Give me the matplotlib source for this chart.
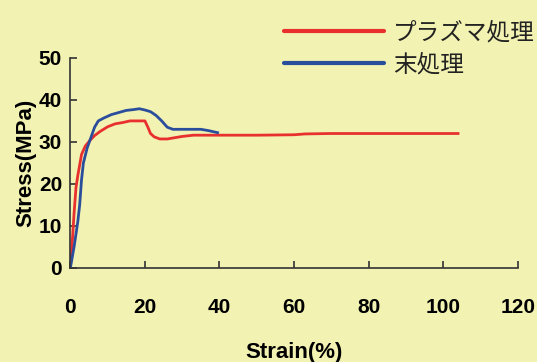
import numpy as np
import matplotlib.pyplot as plt

# stress-strain curves
strain_plasma = [0, 0.5, 1.0, 1.5, 2.0, 3.0, 4.0, 5.2, 6.5, 8, 10, 12, 14, 16, 18, 20,
                 20.8, 21.5, 22.5, 24, 26, 28, 30, 33, 40, 50, 60, 63, 70, 80, 90, 104]
stress_plasma = [0, 6, 13, 19, 22, 27, 29, 30.3, 31.5, 32.5, 33.6, 34.3, 34.6, 35, 35, 35,
                 33.5, 32, 31.2, 30.7, 30.7, 31, 31.3, 31.6, 31.6, 31.6, 31.7, 31.9, 32, 32, 32, 32]

strain_raw = [0, 1, 2, 2.5, 3, 3.5, 4.5, 5.5, 6.5, 7.5, 9, 11, 13, 15, 17, 18.5, 20,
              21.5, 23, 24.5, 26, 27.5, 30, 35, 37, 39.5]
stress_raw = [0, 5, 11, 15, 21, 25, 28.5, 31, 33.5, 35, 35.7, 36.5, 37, 37.5, 37.7, 37.9, 37.6,
              37.2, 36.3, 35, 33.5, 33, 33, 33, 32.7, 32.2]

labels = ['プラズマ処理', '末処理']
xticks = [0, 20, 40, 60, 80, 100, 120]
yticks = [0, 10, 20, 30, 40, 50]

bg = '#F2F2B2'
red = '#E8302F'
blue = '#2B4E9C'

plt.rcParams['font.family'] = ['Liberation Sans', 'DejaVu Sans']

fig = plt.figure(figsize=(5.37, 3.62), dpi=100, facecolor=bg)
ax = fig.add_axes([0.131, 0.26, 0.833, 0.58])
ax.set_facecolor(bg)

l1, = ax.plot(strain_plasma, stress_plasma, color=red, lw=2, label=labels[0])
l2, = ax.plot(strain_raw, stress_raw, color=blue, lw=2, label=labels[1])

ax.set_xlim(0, 120)
ax.set_ylim(0, 50)
ax.set_xticks(xticks)
ax.set_yticks(yticks)
for s in ['top', 'right']:
    ax.spines[s].set_visible(False)
for s in ['left', 'bottom']:
    ax.spines[s].set_color('#333333')
    ax.spines[s].set_linewidth(1.2)
ax.tick_params(direction='in', length=5, width=1.2, color='#333333')
ax.tick_params(axis='x', pad=22)
ax.tick_params(axis='y', pad=6)
for t in ax.get_xticklabels() + ax.get_yticklabels():
    t.set_fontsize(15)
    t.set_fontweight('bold')
ax.set_xlabel('Strain(%)', fontsize=16, fontweight='bold', labelpad=18)
ax.set_ylabel('Stress(MPa)', fontsize=16, fontweight='bold', labelpad=2)

leg = fig.legend(handles=[l1, l2], loc='upper left', bbox_to_anchor=(0.49, 1.0),
                 frameon=False, handlelength=4.2, handletextpad=0.4, labelspacing=0.38,
                 prop={'family': ['Noto Sans CJK JP', 'DejaVu Sans'], 'size': 17})
for h in leg.get_lines():
    h.set_linewidth(3)
    h.set_solid_capstyle('round')
for t in leg.get_texts():
    t.set_color('#222222')

plt.savefig('out.png', dpi=100, facecolor=bg)
